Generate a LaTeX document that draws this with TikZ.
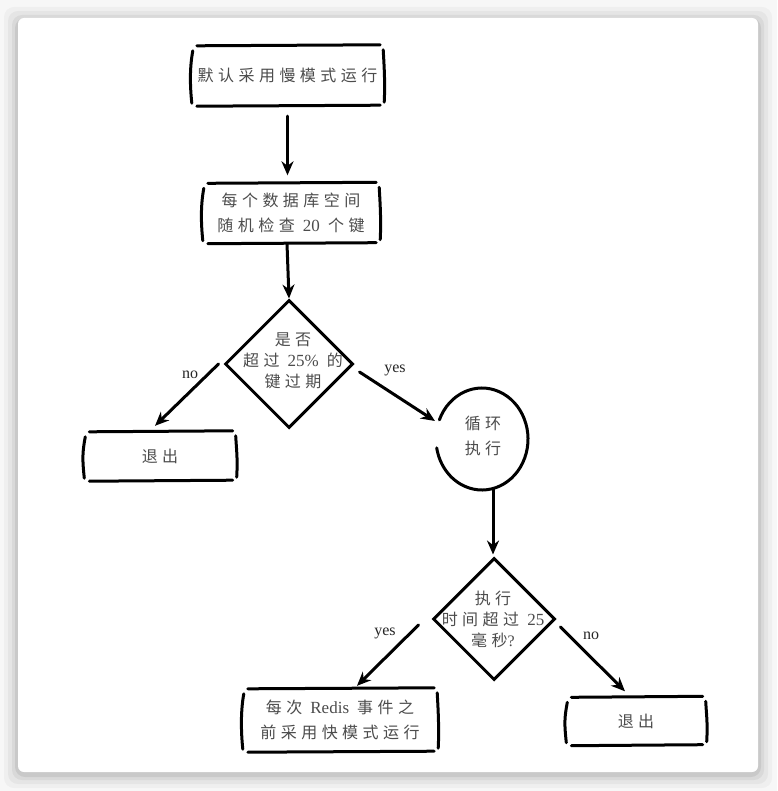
\documentclass[tikz,border=0pt]{standalone}
\usepackage{fontspec}
\setmainfont{Liberation Serif}
\newfontfamily\cjk[LetterSpace=28]{Noto Sans CJK SC}
\usetikzlibrary{shapes.geometric,arrows.meta}
\newcommand\handbox[1]{%
 \draw[hand] ([shift={(5,1)}]#1.north west) -- ([shift={(-3,0)}]#1.north east);
 \draw[hand] ([shift={(5,0)}]#1.south west) -- ([shift={(-3,-1)}]#1.south east);
 \draw[hand] ([shift={(1,6)}]#1.north west) .. controls ([shift={(-2,22)}]#1.north west) and ([shift={(-2,-22)}]#1.south west) .. ([shift={(0,-3)}]#1.south west);
 \draw[hand] ([shift={(0,5)}]#1.north east) .. controls ([shift={(1,22)}]#1.north east) and ([shift={(2,-22)}]#1.south east) .. ([shift={(1,-4)}]#1.south east);
}
\begin{document}
\begin{tikzpicture}[x=1pt,y=-1pt,
  hand/.style={line width=3pt,line cap=round,black},
  arr/.style={line width=3pt,line cap=round,-{Stealth[length=14pt,width=12pt]}},
  boxnode/.style={inner sep=0pt,align=center,text=black!70,font=\cjk\fontsize{16}{25}\selectfont},
  dia/.style={diamond,draw,line width=3pt,inner sep=0pt,minimum width=#1,minimum height=#1},
  dtext/.style={inner sep=0pt,align=center,text=black!70,font=\cjk\fontsize{16}{21}\selectfont},
  lat/.style={},
  edgelbl/.style={inner sep=0pt,text=black!85,font=\fontsize{16}{18}\selectfont}]
\useasboundingbox (0,0) rectangle (777,791);
\fill[white!97!black] (0,0) rectangle (777,791);
\foreach \s/\o in {14/0.03,10/0.04,6/0.05,3/0.07}{
  \fill[black,opacity=\o,rounded corners=10] (18-\s,18-\s+3) rectangle (758+\s,772+\s+2);
}
\fill[white,rounded corners=6] (18,18) rectangle (758,772);

% nodes
\node[boxnode,minimum width=191,minimum height=61] (b1) at (287.5,75.5) {默认采用慢模式运行};
\node[boxnode,minimum width=176,minimum height=61] (b2) at (291,213) {每个数据库空间\\随机检查 {\rmfamily\fontsize{17}{25}\selectfont 20} 个键};
\node[dia=128] (d1) at (289,364) {};
\node[dtext] (d1t) at (293,361) {是否\\超过 {\rmfamily\fontsize{17}{21}\selectfont 25\%} 的\\键过期};
\node[boxnode,minimum width=151,minimum height=50] (e1) at (160,456) {退出};
\node[circle,inner sep=0pt,minimum size=100] (lp) at (482,439) {};
\node[boxnode] (lpt) at (483,436) {循环\\执行};
\node[dia=122] (d2) at (494,619) {};
\node[dtext] (d2t) at (493,619) {执行\\时间超过 {\rmfamily\fontsize{17}{21}\selectfont 25}\\毫秒{\rmfamily ?}};
\node[boxnode,minimum width=194,minimum height=64] (b3) at (340,720) {每次 {\rmfamily\fontsize{17}{25}\selectfont Redis} 事件之\\前采用快模式运行};
\node[boxnode,minimum width=139,minimum height=49] (e2) at (636,721) {退出};

% labels
\node[edgelbl] (l1) at (190,375) {no};
\node[edgelbl] (l2) at (395,370) {yes};
\node[edgelbl] (l3) at (385,633) {yes};
\node[edgelbl] (l4) at (591,636) {no};

% hand-drawn boxes
\handbox{b1}
\handbox{b2}
\handbox{e1}
\handbox{b3}
\handbox{e2}

% loop shape
\draw[hand] ([shift={(202:46 and 51)}]lp.center) arc[start angle=202,end angle=530,x radius=46,y radius=51];

% connectors
\draw[arr] ([shift={(0,10)}]b1.south) -- ([shift={(0,-7)}]b1.south |- b2.north);
\draw[arr] ([shift={(-4,0)}]b2.south) -- (d1.north);
\draw[arr] ([shift={(-5,0)}]d1.west) -- ([shift={(-5,-5)}]e1.north);
\draw[arr] ([shift={(5,8)}]d1.east) -- ([shift={(-47,-18)}]lp.center);
\draw[arr] ([shift={(11,0)}]lp.south) -- ([shift={(-1,-2)}]d2.north);
\draw[arr] ([shift={(-13,6)}]d2.west) -- ([shift={(17,-2)}]b3.north);
\draw[arr] ([shift={(4,8)}]d2.east) -- ([shift={(-11,-5)}]e2.north);
\end{tikzpicture}
\end{document}
